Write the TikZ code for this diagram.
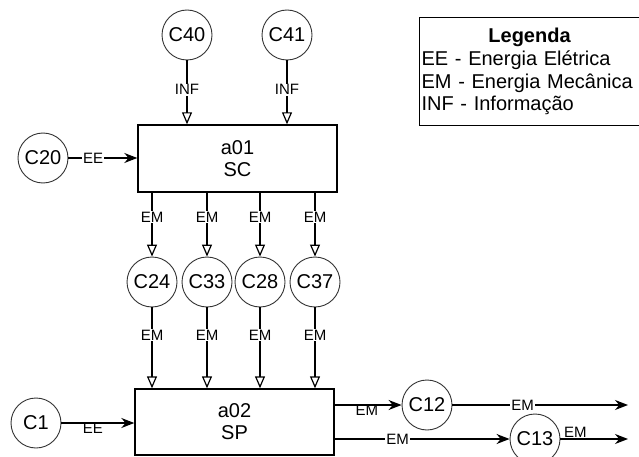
\documentclass[tikz,border=0pt]{standalone}
\usepackage{fontspec}
\setmainfont{Liberation Sans}
\usetikzlibrary{positioning,arrows.meta}

\begin{document}
\begin{tikzpicture}[x=1pt,y=-1pt,
    comp/.style={circle,draw=black!80,line width=0.9pt,minimum size=50pt,inner sep=0pt,
      font=\fontsize{20}{22}\selectfont},
    func/.style={rectangle,draw,line width=1.4pt,minimum width=199pt,align=center,
      font=\fontsize{20}{22}\selectfont},
    flow/.style={line width=1.2pt,-{Triangle[open,length=12pt,width=10pt]}},
    feed/.style={line width=1.2pt,-{Stealth[length=13pt,width=10pt]}},
    lbl/.style={fill=white,inner sep=1pt,font=\fontsize{15}{17}\selectfont}]
  \useasboundingbox (0,0) rectangle (639,457);
  % functions
  \node[func,minimum height=67pt] (a01) at (237.5,158.5) {a01\\SC};
  \node[func,minimum height=66pt] (a02) at (234.5,422) {a02\\SP};
  % information into a01
  \node[comp] (c40) at (187,35) {C40};
  \node[comp] (c41) at (287,35) {C41};
  \draw[flow] (c40) -- node[lbl,pos=.46] {INF} (c40 |- a01.north);
  \draw[flow] (c41) -- node[lbl,pos=.46] {INF} (c41 |- a01.north);
  % energy in
  \node[comp] (c20) at (43,158) {C20};
  \node[comp] (c1) at (36,423) {C1};
  \draw[feed] (c20) -- node[lbl,pos=.36] {EE} (c20 -| a01.west);
  \draw[feed] (c1) -- node[lbl,pos=.43,below,fill=none,inner sep=0pt] {EE} (c1 -| a02.west);
  % a01 -> components -> a02
  \foreach \n/\x in {24/152,33/207,28/260,37/315} {
    \node[comp] (c\n) at (\x,282) {C\n};
    \draw[flow] (c\n |- a01.south) -- node[lbl,pos=.38] {EM} (c\n);
    \draw[flow] (c\n) -- node[lbl,pos=.34] {EM} (c\n |- a02.north);
  }
  % outputs of a02
  \node[comp] (c12) at (427,405) {C12};
  \node[comp] (c13) at (535,439) {C13};
  \coordinate (out12) at (628,405);
  \coordinate (out13) at (628,439);
  \draw[feed] (a02.east |- c12) -- node[lbl,pos=.48,below,fill=none,inner sep=0pt] {EM} (c12);
  \draw[feed] (a02.east |- c13) -- node[lbl,pos=.36] {EM} (c13);
  \draw[feed] (c12) -- node[lbl,pos=.4] {EM} (out12);
  \draw[feed] (c13) -- node[lbl,pos=.22,above,fill=none,inner sep=1pt] {EM} (out13);
  % legend
  \node[draw,line width=1.2pt,anchor=north west,text width=216pt,minimum height=108pt,
    inner xsep=2pt,align=left,font=\fontsize{20}{22.7}\selectfont] (leg) at (419,17)
    {\hfil\textbf{Legenda}\hfil\\EE - Energia Elétrica\\EM - Energia Mecânica\\INF - Informação};
\end{tikzpicture}
\end{document}
